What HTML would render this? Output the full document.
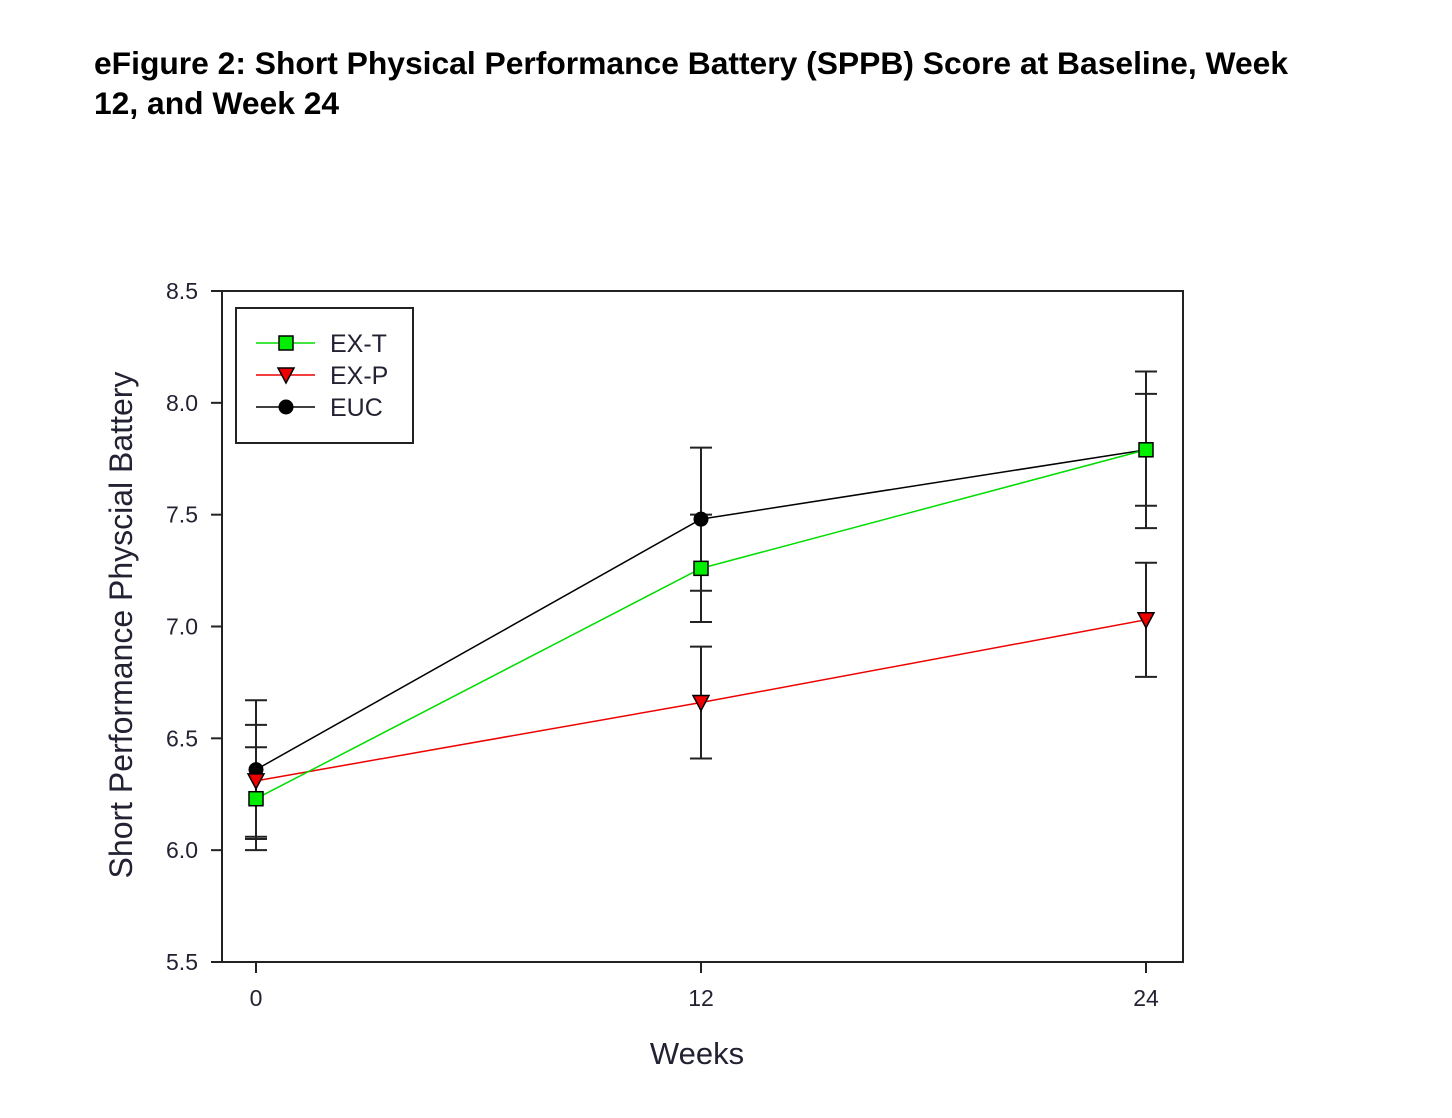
<!DOCTYPE html>
<html><head><meta charset="utf-8"><style>
body{margin:0;background:#fff;width:1452px;height:1118px;overflow:hidden}
.t{position:absolute;left:94px;top:43px;font:bold 31.8px "Liberation Sans",sans-serif;line-height:40px;color:#000}
</style></head><body>
<div class="t">eFigure 2: Short Physical Performance Battery (SPPB) Score at Baseline, Week<br>12, and Week 24</div>
<svg id="c" width="1452" height="1118" style="position:absolute;left:0;top:0" font-family="Liberation Sans, sans-serif"></svg>
<script>
const weeks=[0,12,24];
const exT=[6.23,7.26,7.79], exTErr=[0.23,0.24,0.25];
const exP=[6.31,6.66,7.03], exPErr=[0.25,0.25,0.255];
const euc=[6.36,7.48,7.79], eucErr=[0.31,0.32,0.35];
const yTicks=[5.5,6.0,6.5,7.0,7.5,8.0,8.5];
const yTickLabels=["5.5","6.0","6.5","7.0","7.5","8.0","8.5"];
const xTickLabels=["0","12","24"];
const ns="http://www.w3.org/2000/svg",svg=document.getElementById('c');
const X=w=>256+w*(1146-256)/24, Y=v=>962-(v-5.5)*(962-291)/3;
function el(t,a,p){const e=document.createElementNS(ns,t);for(const k in a)e.setAttribute(k,a[k]);(p||svg).appendChild(e);return e;}
const frame=el('rect',{x:222,y:291,width:961,height:671,fill:'none',stroke:'#222',"stroke-width":2});


yTicks.forEach((v,i)=>{
 el('line',{x1:211,x2:222,y1:Y(v),y2:Y(v),stroke:'#222','stroke-width':2});
 const t=el('text',{x:198,y:Y(v)+8,'text-anchor':'end','font-size':23,fill:'#223'});t.textContent=yTickLabels[i];
 
 
});
weeks.forEach((w,i)=>{
 el('line',{x1:X(w),x2:X(w),y1:962,y2:973,stroke:'#222','stroke-width':2});
 const t=el('text',{x:X(w),y:1006,'text-anchor':'middle','font-size':23,fill:'#223'});t.textContent=xTickLabels[i];
 
 
});
const xt=el('text',{x:697,y:1064,'text-anchor':'middle','font-size':31,fill:'#223'});xt.textContent='Weeks';


const yt=el('text',{x:0,y:0,'text-anchor':'middle','font-size':32,fill:'#223',transform:'translate(132,625) rotate(-90)'});yt.textContent='Short Performance Physcial Battery';


function marker(kind,x,y,fill,g){
 if(kind==='sq')el('rect',{x:x-7,y:y-7,width:14,height:14,fill:fill,stroke:'#000','stroke-width':1.5},g);
 else if(kind==='tri')el('polygon',{points:`${x-8},${y-7} ${x+8},${y-7} ${x},${y+8}`,fill:fill,stroke:'#000','stroke-width':1.5},g);
 else el('circle',{cx:x,cy:y,r:7.5,fill:'#000'},g);
}
const series=[[euc,eucErr,'#000','circ','#000','euc'],[exP,exPErr,'#ee0000','tri','#ee0000','ex-p'],[exT,exTErr,'#00dd00','sq','#00ee00','ex-t']];
series.forEach(([vals,errs,col])=>{
 vals.forEach((v,i)=>{
  const x=X(weeks[i]);
  el('line',{x1:x,x2:x,y1:Y(v-errs[i]),y2:Y(v+errs[i]),stroke:'#222','stroke-width':2});
  [v-errs[i],v+errs[i]].forEach(e=>el('line',{x1:x-11,x2:x+11,y1:Y(e),y2:Y(e),stroke:'#222','stroke-width':2}));
 });
});
series.forEach(([vals,errs,col,kind,fill,name])=>{
 const g=el('g',{});
 
 
 el('polyline',{points:vals.map((v,i)=>X(weeks[i])+','+Y(v)).join(' '),fill:'none',stroke:col,'stroke-width':1.5},g);
 vals.forEach((v,i)=>marker(kind,X(weeks[i]),Y(v),fill,g));
});
const lg=el('g',{});


el('rect',{x:236,y:308,width:177,height:135,fill:'#fff',stroke:'#222','stroke-width':2},lg);
[['EX-T','#00dd00','sq','#00ee00',343],['EX-P','#ee0000','tri','#ee0000',375],['EUC','#000','circ','#000',407]].forEach(([n,c,k,f,y])=>{
 const g=el('g',{},lg);
 
 
 el('line',{x1:256,x2:315,y1:y,y2:y,stroke:c,'stroke-width':1.5},g);
 marker(k,286,y,f,g);
 const t=el('text',{x:330,y:y+9,'font-size':25,fill:'#223'},g);t.textContent=n;
});
</script>
</body></html>
